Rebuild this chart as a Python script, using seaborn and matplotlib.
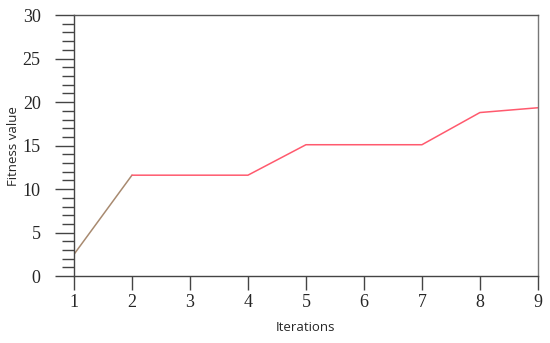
import numpy as np
import pandas as pd
import seaborn as sns
import matplotlib
matplotlib.use("Agg")
import matplotlib.pyplot as plt
from matplotlib.ticker import MultipleLocator

iterations = [1, 2, 3, 4, 5, 6, 7, 8, 9]
fitness = [2.5, 11.6, 11.6, 11.6, 15.1, 15.1, 15.1, 18.8, 19.35]

df = pd.DataFrame({'Iterations': iterations, 'Fitness value': fitness})

sns.set_style("ticks")
plt.rcParams['font.family'] = ['Liberation Serif', 'DejaVu Serif']

fig = plt.figure(figsize=(5.5, 3.43), dpi=100)
ax = fig.add_axes([0.1345, 0.195, 0.8435, 0.761])

# first segment looks brownish in the original, rest is red
sns.lineplot(data=df.iloc[:2], x='Iterations', y='Fitness value', ax=ax,
             color='#a88a70', linewidth=1.1)
sns.lineplot(data=df.iloc[1:], x='Iterations', y='Fitness value', ax=ax,
             color='#ff5a6e', linewidth=1.1)

ax.set_xlim(1, 9)
ax.set_ylim(0, 30)
ax.set_xticks(iterations)
ax.set_yticks([0, 5, 10, 15, 20, 25, 30])
ax.yaxis.set_minor_locator(MultipleLocator(1))

ax.tick_params(axis='y', which='major', length=14, width=1, color='#444444',
               labelsize=13, pad=10)
ax.tick_params(axis='y', which='minor', length=9, width=1, color='#444444')
ax.tick_params(axis='x', which='major', length=10, width=1, color='#444444',
               labelsize=13, pad=3)

for s in ['left', 'bottom']:
    ax.spines[s].set_color('#444444')
    ax.spines[s].set_linewidth(1)
ax.spines['right'].set_color('#777777')
ax.spines['right'].set_linewidth(1)
ax.spines['top'].set_color('#555555')
ax.spines['top'].set_linestyle((0, (1, 1)))
ax.spines['top'].set_linewidth(1)

ax.set_xlabel('Iterations', family=['Open Sans', 'DejaVu Sans'], fontsize=9.5)
ax.set_ylabel('Fitness value', family=['Open Sans', 'DejaVu Sans'], fontsize=9.5)
ax.xaxis.set_label_coords(0.5, -0.172)
ax.yaxis.set_label_coords(-0.116, 0.5)

fig.savefig('out.png', dpi=100)
